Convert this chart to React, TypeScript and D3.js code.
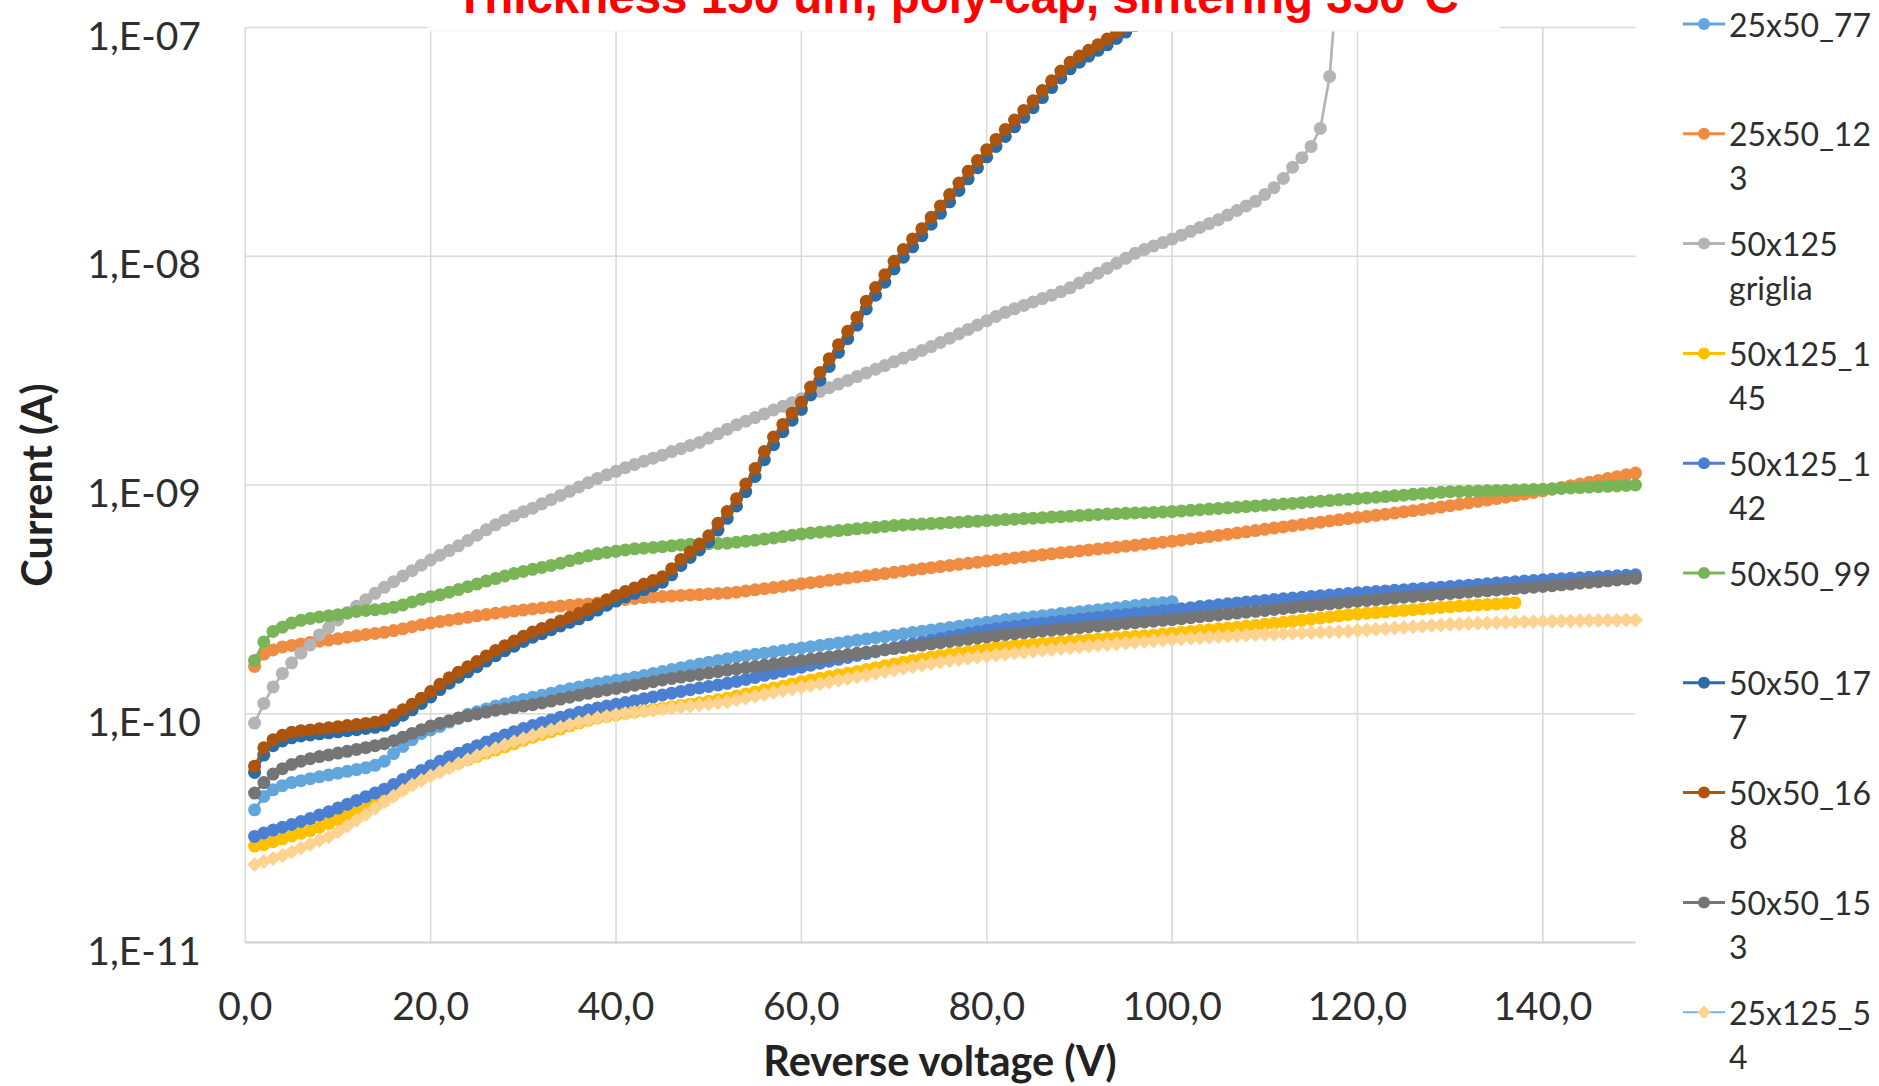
import React from 'react';
import * as d3 from 'd3';

const W = 1879;
const H = 1086;

// Reverse-voltage sweep: every series starts at 1 V, 1 V step.
const V_START = 1;
const V_STEP = 1;

// Currents in pA (1e-12 A).
const I_25x50_77 = [
  38, 43.5, 46.5, 48.5, 50, 51, 52, 53, 54, 55,
  56, 57, 58, 59.5, 62, 67, 72, 77, 82, 85,
  88, 92, 95.5, 99.5, 102, 105, 108, 110.5, 113, 115.5,
  118, 120.5, 123, 126, 128.5, 131, 133.5, 136, 138, 140,
  142, 144.5, 147, 150, 153, 156, 159, 162, 165, 168,
  171, 174, 177, 179.5, 182, 184, 186.5, 189, 191.5, 194,
  196.5, 199, 201.5, 204, 206.5, 209.5, 212, 215, 217.5, 220.5,
  223.5, 226.5, 229.5, 232.5, 235.5, 238.5, 241.5, 244.5, 248, 251,
  254.5, 258, 260.5, 263, 265.5, 268.5, 271, 274, 276.5, 279.5,
  282, 285, 288, 291, 294, 297, 300, 303, 306, 309,
];

const I_25x50_123 = [
  161, 182, 190, 196, 199, 202, 205, 207.5, 210, 213,
  216, 219, 222, 224.5, 227, 231, 235, 240, 245, 249,
  253, 256.5, 260, 264, 268, 271.5, 275, 278, 281, 284,
  287, 290, 293, 295.5, 298, 300, 302, 305, 309, 312.5,
  316, 319, 322, 324, 325.5, 327.5, 329, 330.5, 332, 334,
  335.5, 337, 340, 344, 348, 352, 356, 360, 365, 370,
  374, 378, 383, 387, 392, 396, 401, 406, 410, 415,
  420, 425, 430, 435, 440, 445, 450, 455, 460, 465,
  470, 475, 480, 485, 490, 495, 500, 505, 510, 515,
  520, 525, 530, 535, 540, 545, 551, 556, 562, 567,
  574, 581, 588, 595, 602, 609, 617, 624, 632, 640,
  648, 656, 664, 672, 680, 688, 696, 704, 713, 721,
  729, 737, 745, 754, 763, 772, 781, 791, 801, 812,
  823, 835, 847, 859, 872, 885, 899, 913, 928, 943,
  959, 976, 993, 1010, 1028, 1047, 1067, 1087, 1108, 1128,
];

const I_50x125_griglia = [
  91, 111, 131, 150, 167, 184, 200, 221, 238, 257,
  277, 295, 315, 336, 357, 378, 400, 422, 446, 470,
  493, 517, 542, 572, 603, 637, 670, 702, 733, 763,
  792, 827, 862, 900, 938, 980, 1024, 1068, 1108, 1148,
  1190, 1230, 1270, 1310, 1350, 1400, 1440, 1490, 1535, 1603,
  1675, 1754, 1832, 1901, 1972, 2046, 2128, 2208, 2291, 2382,
  2472, 2564, 2661, 2761, 2864, 2979, 3090, 3206, 3327, 3459,
  3589, 3724, 3873, 4027, 4198, 4385, 4581, 4786, 5000, 5224,
  5458, 5689, 5888, 6095, 6310, 6531, 6761, 6998, 7278, 7638,
  8035, 8433, 8872, 9311, 9795, 10300, 10690, 11090, 11480, 11890,
  12360, 12850, 13370, 13900, 14450, 15140, 15850, 16600, 17380, 18620,
  19950, 21880, 24490, 26980, 30200, 36220, 61090, 200000,
];

const I_50x125_145 = [
  26.4, 26.8, 27.6, 28.4, 29.2, 30, 30.8, 31.9, 33.1, 34.4,
  35.7, 37.1, 38.5, 39.9, 41.6, 44.2, 46.8, 49.5, 52, 54.4,
  56.4, 58.5, 60.8, 63, 65.1, 67.3, 69.4, 71.7, 74, 76.5,
  78.9, 81.2, 83.5, 85.8, 88.4, 91, 93.5, 95.8, 97.3, 98.8,
  100.3, 101.7, 103.1, 104.5, 105.9, 107.3, 108.7, 110.1, 111.7, 113.3,
  115, 117, 119.5, 122, 124.5, 127, 129.5, 132, 135, 138,
  140.5, 143, 145.5, 148, 150.5, 153, 156, 159, 162, 165,
  168, 171, 174, 177, 179.5, 182, 184.5, 187, 189.5, 192,
  195, 197, 198.5, 200, 201.5, 203, 204.5, 206, 207.5, 209,
  210.5, 212, 213.5, 215, 216.5, 218, 219.5, 221, 223, 225,
  227, 229, 231, 233, 235, 237, 239, 241, 243.5, 246,
  248.5, 251, 253.5, 256, 259, 262, 265, 268, 271, 273,
  275, 277, 279, 281, 283, 285, 287, 289.5, 291.5, 293.5,
  295.5, 297, 299, 300.5, 302, 304, 306,
];

const I_50x125_142 = [
  29.1, 30.1, 31, 31.9, 32.8, 33.8, 34.8, 36.1, 37.3, 38.7,
  40.2, 41.8, 43.4, 45, 46.8, 49, 51.6, 54, 56.5, 59.2,
  62, 64.8, 67.2, 69.8, 72.5, 75.2, 78, 80.8, 83.5, 86.2,
  88.8, 91.4, 94, 96.6, 99.1, 101.5, 103.8, 106, 108, 110,
  112, 114.1, 116.3, 118.5, 120.8, 123, 125.2, 127.4, 129.6, 131.6,
  133.6, 135.8, 138.5, 141.3, 144.2, 147.2, 150.2, 153.3, 156.5, 159.7,
  163, 166.3, 169.6, 172.9, 176.3, 179.7, 183.2, 186.8, 190.5, 194.2,
  198, 201.8, 205.6, 209.4, 213.2, 217, 220.8, 224.6, 228.3, 232,
  235, 238, 240.8, 243.5, 246.2, 248.8, 251.4, 254, 256.6, 259.2,
  261.7, 264.2, 266.7, 269.2, 271.7, 274.2, 276.7, 279.2, 281.7, 284.3,
  287.5, 290.8, 294, 296.8, 299.6, 302.4, 305.2, 308, 310.5, 313,
  315.5, 318, 320.5, 323, 325.5, 328, 330.5, 333, 335.5, 338,
  340, 342.2, 344.4, 346.6, 348.8, 351, 353.2, 355.4, 357.6, 360,
  362.5, 365, 367.5, 370, 372.5, 375, 377.5, 380, 382.5, 385,
  387, 389, 391, 393, 395, 397, 399, 401, 403, 405,
];

const I_50x50_99 = [
  171, 206, 229, 239, 249, 256, 261, 265, 268, 271,
  275, 280, 283, 285, 288, 292, 299, 308, 317, 325,
  331, 340, 349, 359, 369, 380, 390, 400, 410, 419,
  428, 436, 445, 455, 467, 478, 490, 500, 507, 513,
  520, 526, 529, 533, 537, 542, 547, 551, 553, 554,
  555, 557, 562, 568, 574, 580, 587, 595, 603, 611,
  617, 622, 627, 632, 637, 643, 648, 653, 659, 665,
  669, 672, 675, 678, 681, 685, 688, 692, 695, 699,
  702, 706, 709, 713, 716, 720, 724, 727, 731, 735,
  739, 743, 746, 749, 752, 755, 757, 759, 762, 765,
  770, 775, 780, 785, 790, 795, 800, 805, 810, 815,
  820, 826, 831, 837, 843, 849, 855, 861, 866, 872,
  878, 884, 890, 897, 903, 910, 916, 922, 929, 935,
  937, 939, 941, 944, 946, 948, 951, 953, 956, 958,
  962, 966, 970, 974, 979, 983, 987, 991, 996, 1000,
];

const I_50x50_177 = [
  55.4, 66, 72.5, 76, 78.5, 80, 80.8, 81.7, 82.5, 83.4,
  84.3, 85.2, 86.2, 87.2, 89, 93.5, 98.5, 104, 111, 118.5,
  127.5, 136, 144.5, 152.5, 160.5, 170, 179.5, 188.5, 197.5, 207,
  216, 224, 233, 242, 251, 260, 271, 284, 298, 311,
  324, 336, 349, 362, 376, 405, 445, 482, 520, 565,
  635, 715, 810, 935, 1090, 1290, 1500, 1710, 1920, 2140,
  2480, 2870, 3300, 3800, 4360, 5000, 5880, 6760, 7700, 8800,
  9900, 11000, 12300, 13800, 15400, 17300, 19400, 21800, 24400, 27200,
  30200, 33400, 36800, 40500, 44600, 49400, 54600, 60200, 66000, 70500,
  75000, 79500, 84000, 89500, 95500, 102000, 108000, 115000,
];

const I_50x50_168 = [
  59, 71, 77, 80.5, 83, 84.3, 85, 86, 86.8, 87.8,
  88.8, 89.7, 90.7, 91.8, 94, 99, 104, 110, 117, 125,
  134.5, 143.5, 152, 160.5, 169, 179, 189, 198.5, 208, 218,
  227.5, 236, 245, 254.5, 264, 274, 286, 300, 315, 329,
  342, 355, 368, 382, 397, 430, 473, 510, 550, 600,
  680, 765, 870, 1010, 1180, 1400, 1620, 1840, 2060, 2300,
  2680, 3100, 3560, 4100, 4700, 5400, 6350, 7300, 8300, 9500,
  10700, 11900, 13200, 14800, 16600, 18600, 20900, 23500, 26200, 29200,
  32400, 35800, 39400, 43400, 47800, 53000, 58500, 64500, 70500, 75000,
  79500, 84000, 89000, 95000, 101000, 108000, 115000,
];

const I_50x50_153 = [
  45, 50, 54.5, 57.5, 60, 62, 63.6, 65, 66.1, 67.3,
  68.5, 69.8, 71.1, 72.5, 74, 76.2, 79, 82, 85.2, 88.3,
  90.8, 93.3, 95.8, 97.9, 99.8, 101.7, 103.6, 105, 106.4, 108,
  109.6, 111.5, 113.6, 115.9, 118.2, 120.5, 122.8, 125, 127, 129,
  131, 133.2, 135.5, 138, 140.5, 142.6, 144.6, 146.6, 148.6, 150.7,
  152.9, 155.2, 157, 158.9, 160.8, 162.8, 164.8, 166.8, 168.8, 170.8,
  172.9, 175, 177.1, 179.3, 181.5, 183.7, 185.9, 188.1, 190.4, 192.7,
  195, 197.3, 199.7, 202.1, 204.5, 207, 209.5, 212, 214.5, 217,
  219.5, 222, 224, 226, 228, 230, 232, 234, 236, 238,
  240, 242, 244, 246, 248, 250, 252, 254, 256, 258,
  260.5, 263, 265.5, 268, 270.5, 273, 275.5, 278, 280.5, 283,
  285.7, 288.5, 291.3, 294.1, 296.9, 299.7, 302.5, 305.3, 308, 310.5,
  313, 315.5, 318, 320.5, 323, 325.5, 328, 330.5, 333, 335.5,
  338, 340.5, 342.8, 345.2, 347.6, 350, 352.4, 354.8, 357.2, 360,
  363, 366, 369, 372, 375, 378, 381, 384.5, 388, 391,
];

const I_25x125_54 = [
  21.9, 22.6, 23.3, 24, 24.9, 25.9, 26.9, 28, 29, 30.5,
  32.3, 34.2, 36.3, 38.6, 41.2, 43.6, 46.2, 48.8, 51.1, 53.4,
  55.6, 57.9, 60.5, 63, 65.5, 68, 70.5, 73, 75.4, 77.8,
  80.3, 82.6, 85, 87.4, 89.6, 91.8, 93.8, 95.8, 97.4, 98.9,
  100.3, 101.5, 102.6, 103.7, 104.8, 105.9, 107, 108.1, 109.2, 110.4,
  111.6, 112.8, 115, 117.2, 119.4, 121.6, 123.8, 126.1, 128.4, 130.7,
  133, 135.3, 137.7, 140.1, 142.6, 145.1, 147.6, 150.2, 152.8, 155.4,
  158, 160.6, 163.2, 165.8, 168.4, 170.6, 172.8, 175, 177, 179,
  180.8, 182.5, 184.2, 185.9, 187.6, 189.3, 191, 192.7, 194.4, 196,
  197.6, 199.2, 200.8, 202.4, 204, 205.5, 207, 208.5, 210, 211.3,
  212.5, 213.7, 214.9, 216.1, 217.3, 218.5, 219.7, 220.9, 221.8, 222.5,
  223.2, 224, 224.8, 225.6, 226.4, 227.2, 228, 228.8, 229.6, 231,
  232.5, 234, 235.5, 237, 238.5, 240, 241.5, 243, 244.5, 246,
  247, 247.8, 248.6, 249.4, 250.2, 251, 251.6, 252.2, 252.8, 253.4,
  253.8, 254.2, 254.6, 255, 255.4, 255.8, 256.2, 256.5, 256.8, 257,
];

const SERIES_NAMES = [
  '25x50_77', '25x50_123', '50x125 griglia', '50x125_145', '50x125_142',
  '50x50_99', '50x50_177', '50x50_168', '50x50_153', '25x125_54',
];
const SERIES_VALUES = [
  I_25x50_77, I_25x50_123, I_50x125_griglia, I_50x125_145, I_50x125_142,
  I_50x50_99, I_50x50_177, I_50x50_168, I_50x50_153, I_25x125_54,
];
const MARKER_COLORS = [
  '#63a6dc', '#ef8c42', '#b4b4b4', '#ffc000', '#4b7fd1',
  '#79b456', '#2c6ca4', '#ad550e', '#757575', '#fed28f',
];
const LINE_COLORS = [
  '#63a6dc', '#ef8c42', '#b4b4b4', '#ffc000', '#4b7fd1',
  '#79b456', '#2c6ca4', '#ad550e', '#757575', '#6db5ea',
];
const MARKER_SHAPES = ['circle', 'circle', 'circle', 'circle', 'circle',
  'circle', 'circle', 'circle', 'circle', 'diamond'];
const LEGEND_LINES = [
  ['25x50_77'], ['25x50_12', '3'], ['50x125', 'griglia'], ['50x125_1', '45'],
  ['50x125_1', '42'], ['50x50_99'], ['50x50_17', '7'], ['50x50_16', '8'],
  ['50x50_15', '3'], ['25x125_5', '4'],
];

const Y_TICKS = [1e-11, 1e-10, 1e-9, 1e-8, 1e-7];
const Y_TICK_LABELS = ['1,E-11', '1,E-10', '1,E-09', '1,E-08', '1,E-07'];
const X_TICKS = [0, 20, 40, 60, 80, 100, 120, 140];
const X_TICK_LABELS = ['0,0', '20,0', '40,0', '60,0', '80,0', '100,0', '120,0', '140,0'];

const TITLE = 'Thickness 150 um, poly-cap, sintering 350°C';
const X_TITLE = 'Reverse voltage (V)';
const Y_TITLE = 'Current (A)';

const PL = 245.3, PR = 1635.5, PT = 27.5, PB = 942.5;

export default function App() {
  const x = d3.scaleLinear().domain([0, 150]).range([PL, PR]);
  const y = d3.scaleLog().domain([1e-11, 1e-7]).range([PB, PT]);
  const series = SERIES_NAMES.map((name, k) => ({
    name,
    pts: SERIES_VALUES[k].map((v, i) => [V_START + i * V_STEP, v * 1e-12] as [number, number]),
    mc: MARKER_COLORS[k],
    lc: LINE_COLORS[k],
    shape: MARKER_SHAPES[k],
  }));
  const line = d3.line<[number, number]>().x(d => x(d[0])).y(d => y(d[1]));
  const r = 6.5;
  const font = 'Lato, "Open Sans", sans-serif';
  const textColor = '#2e2e2e';
  const legendY0 = 24;
  const legendStep = 109.8;

  const marker = (shape: string, cx: number, cy: number, fill: string, key: any, rr: number) =>
    shape === 'diamond' ? (
      <path key={key} d={`M${cx},${cy - rr * 1.15}L${cx + rr * 1.15},${cy}L${cx},${cy + rr * 1.15}L${cx - rr * 1.15},${cy}Z`} fill={fill} />
    ) : (
      <circle key={key} cx={cx} cy={cy} r={rr} fill={fill} />
    );

  return (
    <svg width={W} height={H} style={{ position: 'absolute', left: 0, top: 0, background: '#fff' }}>
      <rect x={0} y={0} width={W} height={H} fill="#fff" />
      <defs>
        <clipPath id="plotclip">
          <rect x={PL - 12} y={PT} width={PR - PL + 24} height={PB - PT + 12} />
        </clipPath>
      </defs>
      {/* gridlines */}
      {X_TICKS.map(t => (
        <line key={'gx' + t} x1={x(t)} x2={x(t)} y1={PT} y2={PB} stroke="#dadada" strokeWidth={1.6} />
      ))}
      {Y_TICKS.map((t, i) => (
        <line key={'gy' + i} x1={PL} x2={PR} y1={y(t)} y2={y(t)}
          stroke={i === 0 ? '#cfcfcf' : '#dadada'} strokeWidth={i === 0 ? 2.2 : 1.6} />
      ))}
      {/* series */}
      <g clipPath="url(#plotclip)">
        {series.map((s, k) => (
          <g key={'s' + k}>
            <path d={line(s.pts) || ''} fill="none" stroke={s.lc} strokeWidth={k === 9 ? 1.6 : 2.7} />
            {s.pts.map((p, i) => marker(s.shape, x(p[0]), y(p[1]), s.mc, i, r))}
          </g>
        ))}
      </g>
      {/* title box and title */}
      <rect x={428} y={0} width={1072} height={31} fill="#fff" />
      <line x1={428} x2={1500} y1={31} y2={31} stroke="#f3f3f3" strokeWidth={1} />
      <text x={957} y={12.5} textAnchor="middle" fill="#ff0000"
        style={{ font: 'bold 47.5px "Liberation Sans", Arial, sans-serif' }}>{TITLE}</text>
      {/* y tick labels */}
      {Y_TICKS.map((t, i) => (
        <text key={'yl' + i} x={201} y={y(t) + 7} textAnchor="end" dominantBaseline="central"
          fill={textColor} style={{ font: `39px ${font}` }}>{Y_TICK_LABELS[i]}</text>
      ))}
      {/* x tick labels */}
      {X_TICKS.map((t, i) => (
        <text key={'xl' + i} x={x(t)} y={1005} textAnchor="middle" dominantBaseline="central"
          fill={textColor} style={{ font: `39px ${font}` }}>{X_TICK_LABELS[i]}</text>
      ))}
      {/* axis titles */}
      <text x={940} y={1060} textAnchor="middle" dominantBaseline="central" fill="#222"
        style={{ font: `bold 41.5px ${font}` }}>{X_TITLE}</text>
      <text transform="translate(36,485) rotate(-90)" textAnchor="middle" dominantBaseline="central" fill="#222"
        style={{ font: `bold 41.5px ${font}` }}>{Y_TITLE}</text>
      {/* legend */}
      {series.map((s, k) => {
        const cy = legendY0 + k * legendStep;
        return (
          <g key={'lg' + k}>
            <line x1={1683} x2={1725} y1={cy} y2={cy} stroke={s.lc} strokeWidth={k === 9 ? 2 : 3} />
            {marker(s.shape, 1704, cy, s.mc, 'm', 6)}
            {LEGEND_LINES[k].map((ln, j) => (
              <text key={j} x={1729} y={cy + j * 44} dominantBaseline="central" fill={textColor}
                style={{ font: `32px ${font}` }}>{ln}</text>
            ))}
          </g>
        );
      })}
    </svg>
  );
}
